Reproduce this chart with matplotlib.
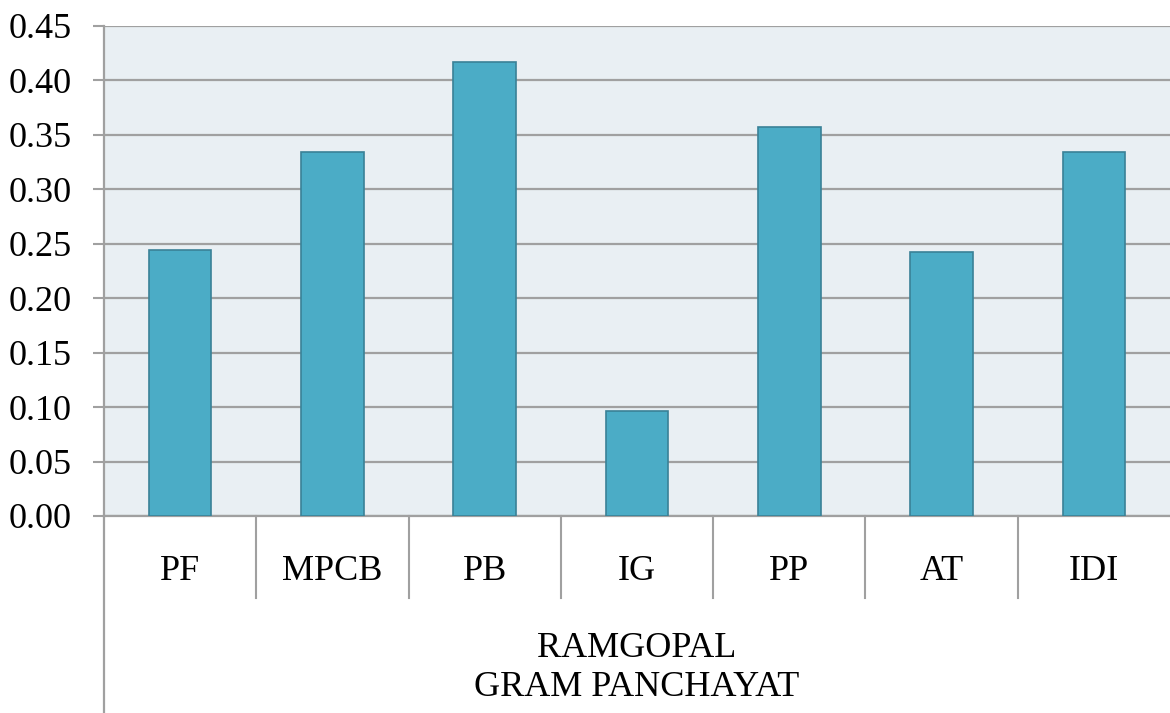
import matplotlib.pyplot as plt
import matplotlib.transforms as mtransforms
import numpy as np

categories = ['PF', 'MPCB', 'PB', 'IG', 'PP', 'AT', 'IDI']
values = [0.244, 0.334, 0.417, 0.096, 0.357, 0.242, 0.334]
group_label = 'RAMGOPAL\nGRAM PANCHAYAT'
yticks = [0.00, 0.05, 0.10, 0.15, 0.20, 0.25, 0.30, 0.35, 0.40, 0.45]

plt.rcParams['font.family'] = ['Liberation Serif', 'DejaVu Serif']

fig = plt.figure(figsize=(11.7, 7.13), dpi=100)
ax = fig.add_axes([104 / 1170, 197 / 713, 1 - 104 / 1170, 490 / 713])
ax.set_facecolor('#E9EFF3')

x = np.arange(len(categories))
ax.bar(x, values, width=0.41, color='#4BACC6', edgecolor='#3A8197', linewidth=1.2, zorder=3)

ax.set_xlim(-0.5, len(categories) - 0.5)
ax.set_ylim(0, 0.45)
ax.set_yticks(yticks)
ax.set_yticklabels(['%.2f' % t for t in yticks], fontsize=26)
ax.yaxis.grid(True, color='#A0A0A0', linewidth=1.6, zorder=1)
ax.tick_params(axis='y', length=8, width=1.5, color='#A0A0A0', pad=15, labelcolor='black')
ax.set_xticks([])

for s in ['top', 'right']:
    ax.spines[s].set_visible(False)
ax.spines['left'].set_color('#A0A0A0')
ax.spines['left'].set_linewidth(1.6)
ax.spines['bottom'].set_color('#A0A0A0')
ax.spines['bottom'].set_linewidth(1.6)

trans = mtransforms.blended_transform_factory(ax.transData, ax.transAxes)
sep_bottom = -82 / 490
for i in range(1, len(categories)):
    ax.plot([i - 0.5, i - 0.5], [0, sep_bottom], transform=trans, color='#A0A0A0',
            linewidth=1.5, clip_on=False)
ax.plot([-0.5, -0.5], [0, -200 / 490], transform=trans, color='#A0A0A0',
        linewidth=1.6, clip_on=False)

for i, c in enumerate(categories):
    ax.text(i, -55 / 490, c, transform=trans, ha='center', va='center', fontsize=26)

ax.text(0.5, -152 / 490, group_label, transform=ax.transAxes, ha='center', va='center',
        fontsize=26, linespacing=1.25)

fig.savefig('out.png', dpi=100)
